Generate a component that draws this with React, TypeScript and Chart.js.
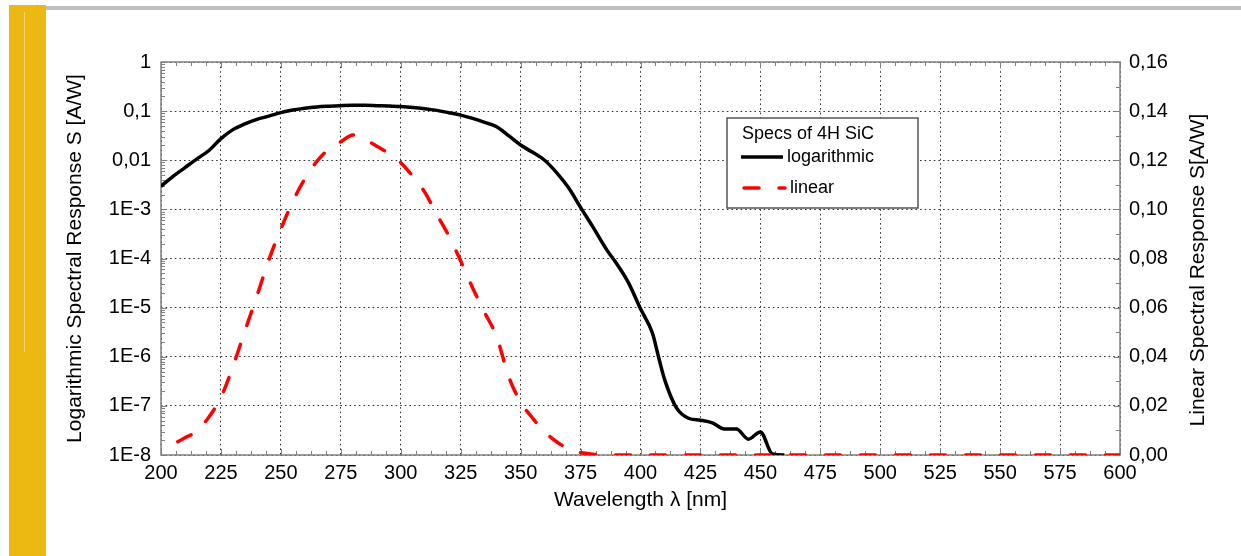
import React, { useEffect, useRef } from "react";
import { Chart, registerables } from "chart.js";

Chart.register(...registerables);

// ---- data ----
const logWavelengths = [
  200, 205, 210, 215, 220, 225, 230, 235, 240, 245, 250, 255, 260, 265, 270, 275, 280, 285, 290,
  295, 300, 305, 310, 315, 320, 325, 330, 335, 340, 345, 350, 355, 360, 365, 370, 375, 380, 386,
  390, 395, 400, 405, 407.5, 410, 415, 420, 425, 430, 435, 440, 445, 450, 455, 460,
];
const logResponse = [
  2.95e-3, 4.7e-3, 7.1e-3, 1.07e-2, 1.58e-2, 2.75e-2, 4.2e-2, 5.5e-2, 6.8e-2, 7.9e-2, 9.3e-2,
  0.105, 0.115, 0.122, 0.126, 0.129, 0.131, 0.131, 0.129, 0.127, 0.124, 0.119, 0.112, 0.1035,
  0.093, 0.083, 0.071, 0.059, 0.048, 0.0316, 0.0204, 0.0145, 0.01, 5.6e-3, 2.75e-3, 1.1e-3,
  4.5e-4, 1.48e-4, 7.9e-5, 3.2e-5, 9.5e-6, 3.0e-6, 1.0e-6, 3.5e-7, 9.1e-8, 5.6e-8, 5.1e-8,
  4.5e-8, 3.4e-8, 3.4e-8, 2.1e-8, 2.95e-8, 1.05e-8, 1.0e-8,
];

const linWavelengths = [
  207, 210, 215, 220, 225, 230, 235, 240, 245, 250, 255, 260, 265, 270, 275, 280, 285, 290, 295,
  300, 305, 310, 315, 320, 325, 330, 335, 340, 345, 350, 355, 360, 365, 370, 375, 380, 385, 600,
];
const linResponse = [
  0.0054, 0.007, 0.0097, 0.0155, 0.0235, 0.036, 0.0505, 0.0647, 0.0795, 0.092, 0.1033, 0.1125,
  0.1195, 0.1245, 0.1275, 0.1303, 0.1285, 0.1257, 0.1228, 0.119, 0.1135, 0.107, 0.098, 0.0893,
  0.079, 0.068, 0.058, 0.0482, 0.032, 0.0215, 0.015, 0.0095, 0.0054, 0.0025, 0.001, 0.0003, 0,
  0,
];

const logTickValues = [1e-8, 1e-7, 1e-6, 1e-5, 1e-4, 1e-3, 1e-2, 1e-1, 1];
const logTickLabels = ["1E-8", "1E-7", "1E-6", "1E-5", "1E-4", "1E-3", "0,01", "0,1", "1"];
const linTickValues = [0, 0.02, 0.04, 0.06, 0.08, 0.1, 0.12, 0.14, 0.16];
const linTickLabels = ["0,00", "0,02", "0,04", "0,06", "0,08", "0,10", "0,12", "0,14", "0,16"];

const xTitle = "Wavelength \u03bb [nm]";
const yLeftTitle = "Logarithmic Spectral Response S [A/W]";
const yRightTitle = "Linear Spectral Response S[A/W]";
const legendTitle = "Specs of 4H SiC";
const seriesNames = ["logarithmic", "linear"];

const FONT = '"Liberation Sans", Arial, sans-serif';
const RED_DASH = [15, 20];
const GRID_DASH = [1.6, 3];

const frameTicksPlugin = {
  id: "frameTicks",
  beforeDatasetsDraw(chart: any) {
    const { ctx, chartArea, scales } = chart;
    const { left, right, top, bottom } = chartArea;
    ctx.save();
    ctx.strokeStyle = "#808080";
    ctx.lineWidth = 1;
    const seg = (x1: number, y1: number, x2: number, y2: number) => {
      ctx.beginPath();
      ctx.moveTo(x1, y1);
      ctx.lineTo(x2, y2);
      ctx.stroke();
    };
    // x ticks (bottom & top), inward
    const xs = scales.x;
    for (let v = xs.min; v <= xs.max + 0.001; v += 6.25) {
      const p = Math.round(xs.getPixelForValue(v)) + 0.5;
      const len = Math.abs(v % 25) < 0.01 ? 6 : 4;
      seg(p, bottom, p, bottom - len);
      seg(p, top, p, top + len);
    }
    // left log ticks
    const ys = scales.y;
    for (let e = -8; e <= 0; e++) {
      for (let k = 1; k <= 9; k++) {
        const v = k * Math.pow(10, e);
        if (v > 1.0001) break;
        const p = Math.round(ys.getPixelForValue(v)) + 0.5;
        const len = k === 1 ? 6 : 4;
        seg(left, p, left + len, p);
      }
    }
    // right linear ticks
    const y1 = scales.y1;
    for (let i = 0; i <= 16; i++) {
      const v = i * 0.01;
      const p = Math.round(y1.getPixelForValue(v)) + 0.5;
      const len = i % 2 === 0 ? 6 : 4;
      seg(right, p, right - len, p);
    }
    // frame
    ctx.lineWidth = 1.5;
    ctx.strokeRect(left, top, right - left, bottom - top);
    ctx.restore();
  },
  afterDraw(chart: any) {
    const { ctx } = chart;
    ctx.save();
    // right axis title (reads bottom-to-top)
    ctx.fillStyle = "#000";
    ctx.font = `21px ${FONT}`;
    ctx.textAlign = "center";
    ctx.textBaseline = "middle";
    ctx.translate(1198, 270);
    ctx.rotate(-Math.PI / 2);
    ctx.fillText(yRightTitle, 0, 0);
    ctx.restore();

    // legend
    const ds = chart.data.datasets;
    ctx.save();
    ctx.fillStyle = "#fff";
    ctx.fillRect(727, 118, 191, 90);
    ctx.strokeStyle = "#555";
    ctx.lineWidth = 1.5;
    ctx.strokeRect(727, 118, 191, 90);
    ctx.fillStyle = "#000";
    ctx.font = `18px ${FONT}`;
    ctx.textAlign = "left";
    ctx.textBaseline = "middle";
    ctx.fillText(legendTitle, 742, 134);
    // logarithmic
    ctx.strokeStyle = ds[0].borderColor;
    ctx.lineWidth = ds[0].borderWidth;
    ctx.beginPath();
    ctx.moveTo(741, 157);
    ctx.lineTo(783, 157);
    ctx.stroke();
    ctx.fillText(ds[0].label, 787, 157);
    // linear
    ctx.strokeStyle = ds[1].borderColor;
    ctx.lineWidth = ds[1].borderWidth;
    ctx.lineCap = "round";
    ctx.setLineDash(ds[1].borderDash);
    ctx.beginPath();
    ctx.moveTo(744, 188);
    ctx.lineTo(785, 188);
    ctx.stroke();
    ctx.setLineDash([]);
    ctx.fillText(ds[1].label, 790, 188);
    ctx.restore();
  },
};

export default function App() {
  const canvasRef = useRef<HTMLCanvasElement | null>(null);

  useEffect(() => {
    const canvas = canvasRef.current;
    if (!canvas) return;
    const chart = new Chart(canvas, {
      type: "line",
      data: {
        datasets: [
          {
            label: seriesNames[0],
            data: logWavelengths.map((x, i) => ({ x, y: logResponse[i] })),
            yAxisID: "y",
            borderColor: "#000000",
            borderWidth: 3.5,
            pointRadius: 0,
            cubicInterpolationMode: "monotone",
            order: 2,
          },
          {
            label: seriesNames[1],
            data: linWavelengths.map((x, i) => ({ x, y: linResponse[i] })),
            yAxisID: "y1",
            borderColor: "#ff0000",
            borderWidth: 3.5,
            borderDash: RED_DASH,
            borderCapStyle: "round",
            pointRadius: 0,
            cubicInterpolationMode: "monotone",
            order: 1,
          },
        ],
      },
      options: {
        animation: false,
        responsive: false,
        events: [],
        layout: { padding: { top: 62, left: 0, right: 0, bottom: 0 } },
        plugins: {
          legend: { display: false },
          tooltip: { enabled: false },
        },
        scales: {
          x: {
            type: "linear",
            position: "bottom",
            min: 200,
            max: 600,
            afterFit(scale: any) {
              scale.height = 101;
            },
            ticks: {
              stepSize: 25,
              autoSkip: false,
              maxRotation: 0,
              padding: 6,
              color: "#000",
              font: { family: FONT, size: 20 },
              callback: (v: any) => String(v),
            },
            grid: { color: "#333", lineWidth: 1, drawTicks: false },
            border: { display: false, dash: GRID_DASH },
            title: {
              display: true,
              text: xTitle,
              color: "#000",
              font: { family: FONT, size: 21 },
              padding: { top: 0, bottom: 43 },
            },
          },
          y: {
            type: "logarithmic",
            position: "left",
            min: 1e-8,
            max: 1,
            afterFit(scale: any) {
              scale.width = 161;
            },
            afterBuildTicks(scale: any) {
              scale.ticks = logTickValues.map((value) => ({ value }));
            },
            ticks: {
              autoSkip: false,
              padding: 10,
              color: "#000",
              font: { family: FONT, size: 20 },
              callback: (_v: any, i: number) => logTickLabels[i],
            },
            grid: { color: "#333", lineWidth: 1, drawTicks: false },
            border: { display: false, dash: GRID_DASH },
            title: {
              display: true,
              text: yLeftTitle,
              color: "#000",
              font: { family: FONT, size: 21 },
              padding: { top: 63, bottom: 0 },
            },
          },
          y1: {
            type: "linear",
            position: "right",
            min: 0,
            max: 0.16,
            afterFit(scale: any) {
              scale.width = 121;
            },
            afterBuildTicks(scale: any) {
              scale.ticks = linTickValues.map((value) => ({ value }));
            },
            ticks: {
              autoSkip: false,
              padding: 9,
              color: "#000",
              font: { family: FONT, size: 20 },
              callback: (_v: any, i: number) => linTickLabels[i],
            },
            grid: { drawOnChartArea: false, drawTicks: false },
            border: { display: false },
          },
        },
      },
      plugins: [frameTicksPlugin],
    } as any);
    return () => chart.destroy();
  }, []);

  return (
    <div
      style={{
        position: "absolute",
        left: 0,
        top: 0,
        width: 1241,
        height: 556,
        overflow: "hidden",
        background: "#fff",
      }}
    >
      <div
        style={{
          position: "absolute",
          left: 9,
          top: 5,
          width: 37,
          height: 551,
          background: "#ECB912",
        }}
      />
      <div
        style={{
          position: "absolute",
          left: 24,
          top: 12,
          width: 1,
          height: 340,
          background: "#F4D468",
        }}
      />
      <div
        style={{
          position: "absolute",
          left: 46,
          top: 6,
          width: 1195,
          height: 4,
          background: "#C0C0C0",
        }}
      />
      <canvas
        ref={canvasRef}
        width={1241}
        height={556}
        style={{ position: "absolute", left: 0, top: 0, width: 1241, height: 556 }}
      />
    </div>
  );
}
